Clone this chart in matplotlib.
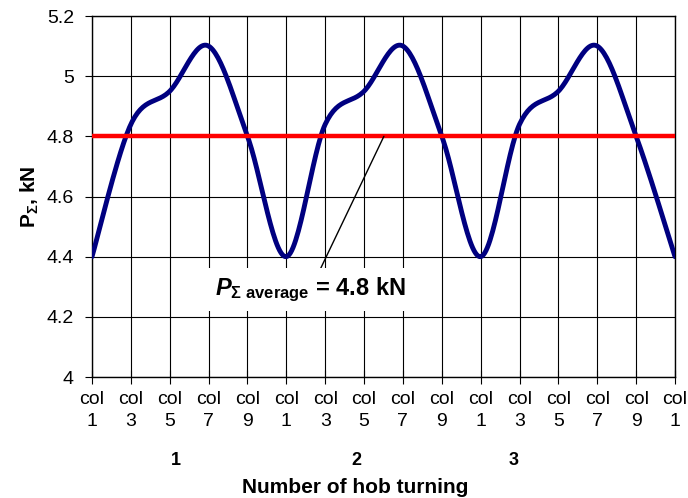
import numpy as np
import matplotlib
matplotlib.use("Agg")
import matplotlib.pyplot as plt

plt.rcParams['font.family'] = ['Liberation Sans', 'DejaVu Sans']
plt.rcParams['mathtext.fontset'] = 'custom'
plt.rcParams['mathtext.rm'] = 'Liberation Sans'
plt.rcParams['mathtext.it'] = 'Liberation Sans:italic'
plt.rcParams['mathtext.bf'] = 'Liberation Sans:bold'
plt.rcParams['mathtext.bfit'] = 'Liberation Sans:bold:italic'

# column positions along the hob, three turnings plus the closing column
tick_labels = ["col\n1", "col\n3", "col\n5", "col\n7", "col\n9"] * 3 + ["col\n1"]
force = [4.4, 4.84, 4.95, 5.1, 4.8,
         4.4, 4.84, 4.95, 5.1, 4.8,
         4.4, 4.84, 4.95, 5.1, 4.8,
         4.4]
average = 4.8
turn_labels = ["1", "2", "3"]
turn_pos = [2.16, 6.79, 10.86]


def smooth(xs, ys, n=30):
    # cubic bezier through the points, control points at 1/6 of neighbour span
    P = np.column_stack([xs, ys]).astype(float)
    out = []
    for i in range(len(P) - 1):
        p0 = P[max(i - 1, 0)]
        p1 = P[i]
        p2 = P[i + 1]
        p3 = P[min(i + 2, len(P) - 1)]
        b1 = p1 + (p2 - p0) / 6.0
        b2 = p2 - (p3 - p1) / 6.0
        t = np.linspace(0, 1, n)[:, None]
        seg = ((1 - t) ** 3) * p1 + 3 * ((1 - t) ** 2) * t * b1 + 3 * (1 - t) * t ** 2 * b2 + t ** 3 * p2
        out.append(seg if i == 0 else seg[1:])
    out = np.vstack(out)
    return out[:, 0], out[:, 1]


x = np.arange(len(force))
sx, sy = smooth(x, force)

fig = plt.figure(figsize=(6.88, 4.98), dpi=100)
ax = fig.add_axes([92 / 688, 1 - 377 / 498, (675 - 92) / 688, (377 - 16) / 498])

ax.set_xlim(0, len(force) - 1)
ax.set_ylim(4, 5.2)
ax.set_yticks(np.arange(4, 5.21, 0.2))
ax.set_yticklabels(["4", "4.2", "4.4", "4.6", "4.8", "5", "5.2"])
ax.set_xticks(x)
ax.set_xticklabels(tick_labels, linespacing=1.4)
ax.grid(True, color='black', lw=0.8)
ax.set_axisbelow(True)
for s in ax.spines.values():
    s.set_linewidth(1.0)
ax.tick_params(axis='y', direction='out', length=5, labelsize=14, pad=8)
ax.tick_params(axis='x', direction='inout', length=10, labelsize=14, pad=5)

ax.plot(sx, sy, color='#000080', lw=3.5, solid_capstyle='round', zorder=3)
ax.axhline(average, color='#ff0000', lw=3.2, zorder=4)

ax.annotate(r"$\mathbfit{P}_{\mathbf{\Sigma\ average}}$ = 4.8 kN",
            xy=(7.51, average), xytext=(5.62, 4.29),
            ha='center', va='center', fontsize=17, fontweight='bold',
            bbox=dict(boxstyle='square,pad=0.3', fc='white', ec='none'),
            arrowprops=dict(arrowstyle='-', color='black', lw=1.0,
                            shrinkA=0, shrinkB=0),
            zorder=5)

ax.set_ylabel(r"$\mathbf{P_{\Sigma}}$, kN", fontsize=15, fontweight='bold', labelpad=4)

for lab, pos in zip(turn_labels, turn_pos):
    ax.text(pos, -0.23, lab, transform=ax.get_xaxis_transform(),
            ha='center', va='center', fontsize=13, fontweight='bold')
fig.text(355 / 688, 1 - 487 / 498, "Number of hob turning",
         ha='center', va='center', fontsize=15, fontweight='bold')

fig.savefig("out.png", dpi=100)
